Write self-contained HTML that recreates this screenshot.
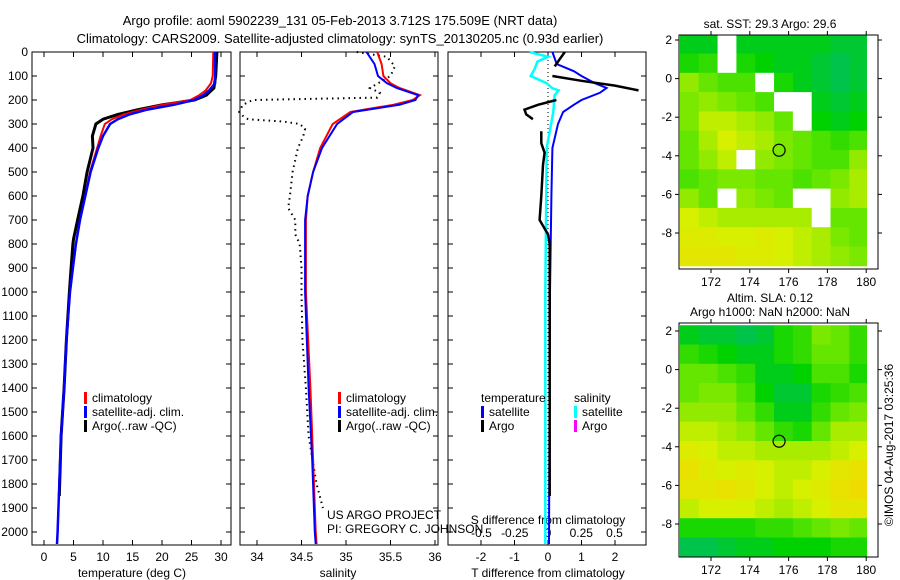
<!DOCTYPE html>
<html><head><meta charset="utf-8"><style>
html,body{margin:0;padding:0;background:#fff;}
svg{display:block;font-family:"Liberation Sans",sans-serif;}
</style></head><body>
<svg id="c" width="900" height="580" viewBox="0 0 900 580"></svg>
<script>
// ---- data ----
const tDepth   = [0,100,130,160,180,200,220,240,260,280,300,350,400,500,600,700,800,900,1000,1200,1400,1600,1800,2000,2050];
const tClim    = [28.7,28.6,28.3,27.4,26.3,24.8,20,16.5,13.5,11.5,10.3,9.6,9.0,7.8,7.0,6.1,5.4,4.9,4.4,3.8,3.4,2.9,2.6,2.3,2.2];
const tSat     = [29.0,29.0,29.0,28.0,27.0,25.5,22,17.5,14.5,12.5,11.2,10.0,9.2,7.9,7.0,6.1,5.4,4.9,4.4,3.8,3.4,2.9,2.6,2.3,2.2];
const tArgoDepth = [0,100,150,180,200,220,240,260,280,300,350,400,500,600,700,780,800,900,1000,1200,1400,1600,1850];
const tArgo    = [29.3,29.1,28.8,27.5,25.5,20,16,12.5,10,8.8,8.2,8.3,7.3,6.6,5.7,5.0,4.9,4.6,4.3,3.8,3.4,2.9,2.6];
const sDepth   = [0,50,100,130,150,180,200,220,250,300,400,500,600,700,1000,1400,1700,2000,2050];
const sClim    = [35.35,35.4,35.42,35.5,35.6,35.83,35.75,35.53,35.05,34.85,34.71,34.63,34.57,34.55,34.55,34.6,34.63,34.66,34.67];
const sSat     = [35.23,35.32,35.36,35.46,35.57,35.81,35.78,35.6,35.08,34.9,34.73,34.63,34.57,34.54,34.54,34.58,34.62,34.65,34.66];
const sArgoDepth = [0,20,60,100,150,170,190,200,220,250,270,280,290,300,320,350,400,500,600,650,700,760,800,900,1000,1200,1400,1600,1800,1900];
const sArgo    = [35.12,35.46,35.55,35.5,35.27,35.38,35.35,33.95,33.84,33.8,33.85,33.9,34.3,34.48,34.54,34.52,34.46,34.40,34.37,34.35,34.43,34.43,34.48,34.5,34.5,34.51,34.55,34.58,34.67,34.74];
const dDepth   = [0,50,80,100,130,150,170,200,220,250,300,400,600,1000,2050];
const dTSat    = [0.13,0.26,0.77,1.0,1.4,1.75,1.55,1.0,0.77,0.45,0.3,0.13,0.1,0.06,0.03];
const dTArgoDepth = [0,30,60,null,100,120,140,160,null,200,220,240,260,280,null,330,380,420,470,600,700,760,800,1200,1850];
const dTArgo   = [0.5,0.35,0.2,null,0.13,1.0,2.0,2.7,null,0.25,-0.3,-0.7,-0.65,-0.45,null,-0.2,-0.2,-0.1,-0.15,-0.2,-0.25,0.0,0.05,0.05,0.05];
const dSDepth  = [0,20,40,70,100,130,150,160,180,250,400,1000,2050];
const dSSat    = [-0.14,0,-0.08,-0.1,-0.13,-0.01,0.03,0.08,0.05,0.04,-0.01,-0.02,-0.02];
const depthTicks = [0,100,200,300,400,500,600,700,800,900,1000,1100,1200,1300,1400,1500,1600,1700,1800,1900,2000];
const tTicks = [0,5,10,15,20,25,30];
const sTicks = [34,34.5,35,35.5,36];
const sTickLabels = ["34","34.5","35","35.5","36"];
const dTTicks = [-2,-1,0,1,2];
const dSTicks = [-0.5,-0.25,0,0.25,0.5];
const lonTicks = [172,174,176,178,180];
const latTicks = [2,0,-2,-4,-6,-8];
const sstGrid = [
[.2,.2,null,.2,.2,.2,.2,.2,.15,.15],
[.3,.35,null,.3,.25,.2,.2,.15,.1,.15],
[.55,.45,.4,.4,null,.3,.2,.15,.1,.15],
[.5,.55,.5,.45,.4,null,null,.2,.15,.2],
[.5,.65,.65,.6,.55,.45,null,.25,.2,.25],
[.45,.6,.7,.65,.6,.5,.45,.4,.35,.4],
[.45,.55,.65,null,.55,.5,.45,.4,.4,.55],
[.4,.45,.5,.5,.45,.45,.4,.45,.5,.6],
[.55,.45,null,.55,.5,.45,null,null,.55,.6],
[.7,.65,.6,.6,.6,.6,.6,null,.45,.45],
[.75,.75,.7,.7,.75,.7,.65,.6,.5,.45],
[.8,.8,.8,.75,.75,.7,.65,.6,.55,.5]];
const slaGrid = [
[.2,.15,.15,.1,.15,.3,.35,.5,.45,.35],
[.35,.3,.25,.2,.2,.3,.35,.45,.45,.35],
[.45,.45,.4,.35,.2,.2,.25,.4,.4,.3],
[.45,.5,.5,.4,.25,.15,.15,.3,.35,.4],
[.55,.55,.55,.45,.35,.2,.2,.35,.45,.5],
[.65,.65,.6,.55,.45,.35,.3,.45,.6,.6],
[.75,.7,.65,.65,.6,.6,.6,.6,.65,.7],
[.85,.75,.7,.75,.7,.65,.65,.7,.8,.85],
[.8,.8,.85,.8,.7,.65,.7,.75,.85,.9],
[.65,.7,.7,.7,.65,.6,.65,.7,.8,.8],
[.3,.3,.3,.3,.35,.35,.4,.45,.5,.45],
[.1,.1,.15,.2,.2,.25,.25,.25,.3,.3]];
const floatLon = 175.509, floatLat = -3.712;

// ---- helpers ----
const svg = document.getElementById('c');
const NS = 'http://www.w3.org/2000/svg';
function mk(tag, attrs, parent){const e=document.createElementNS(NS,tag);for(const k in attrs)e.setAttribute(k,attrs[k]);(parent||svg).appendChild(e);return e;}
function txt(x,y,s,anchor,size,parent){const e=mk('text',{x:x,y:y,'text-anchor':anchor||'start','font-size':size||12,fill:'#000'},parent);e.textContent=s;return e;}
const Y0=52, YS=0.24;
const yD = d => Y0 + d*YS;
const P1={l:32,r:231}, P2={l:240,r:438}, P3={l:448,r:646}, PB=545;
const xT = t => 44 + t*5.9;
const xS = s => 257 + (s-34)*89;
const xDT = v => 548 + v*33.5;
const xDS = v => 548 + v*133;

function line(ds, vs, fx, color, w, dash, name){
  let d='', pen=false;
  for(let i=0;i<ds.length;i++){
    if(ds[i]===null||vs[i]===null){pen=false;continue;}
    d += (pen?'L':'M') + fx(vs[i]).toFixed(1) + ' ' + yD(ds[i]).toFixed(1) + ' ';
    pen=true;
  }
  const p=mk('path',{d:d,fill:'none',stroke:color,'stroke-width':w,'stroke-dasharray':dash||'none'});
  
  
  return p;
}
function box(P,name){
  const r=mk('rect',{x:P.l,y:Y0,width:P.r-P.l,height:PB-Y0,fill:'none',stroke:'#000','stroke-width':1});
  
  
  depthTicks.forEach(d=>{
    mk('line',{x1:P.l,x2:P.l+5,y1:yD(d),y2:yD(d),stroke:'#000'});
    mk('line',{x1:P.r,x2:P.r-5,y1:yD(d),y2:yD(d),stroke:'#000'});
  });
}
function xticks(vals, fx, labels, yl, P){
  vals.forEach((v,i)=>{
    const x=fx(v);
    mk('line',{x1:x,x2:x,y1:PB,y2:PB-5,stroke:'#000'});
    mk('line',{x1:x,x2:x,y1:Y0,y2:Y0+5,stroke:'#000'});
    const t=txt(x,yl,labels?labels[i]:String(v),'middle',12);
    
    
  });
}

// titles
let t=txt(340,25,'Argo profile: aoml 5902239_131 05-Feb-2013 3.712S 175.509E (NRT data)','middle',13);

t=txt(340,43,'Climatology: CARS2009. Satellite-adjusted climatology: synTS_20130205.nc (0.93d earlier)','middle',13);


// panel 1
box(P1,'temperature-panel');
depthTicks.forEach(d=>{const e=txt(28,yD(d)+4,String(d),'end',12);});
xticks(tTicks,xT,null,561,P1);
t=txt(132,577,'temperature (deg C)','middle',12);
line(tArgoDepth,tArgo,xT,'#000',3,null,'temperature-argo-line');
line(tDepth,tClim,xT,'#f00',2,null,'temperature-climatology-line');
line(tDepth,tSat,xT,'#00f',2.5,null,'temperature-satellite-line');

// panel 2
box(P2,'salinity-panel');
xticks(sTicks,xS,sTickLabels,561,P2);
t=txt(338,577,'salinity','middle',12);
line(sArgoDepth,sArgo,xS,'#000',2,'1.5 4','salinity-argo-dotted-line');
line(sDepth,sClim,xS,'#f00',2,null,'salinity-climatology-line');
line(sDepth,sSat,xS,'#00f',2,null,'salinity-satellite-line');

// legends p1, p2
function legend(x,y,items,name){
  const g=mk('g',{});
  
  
  items.forEach((it,i)=>{
    if(it[0]) mk('rect',{x:x,y:y+i*14-10,width:3,height:12,fill:it[0]},g);
    txt(x+(it[0]?8:0),y+i*14,it[1],'start',12,g);
  });
}
legend(84,402,[['#f00','climatology'],['#00f','satellite-adj. clim.'],['#000','Argo(..raw -QC)']],'temperature-legend');
legend(338,402,[['#f00','climatology'],['#00f','satellite-adj. clim.'],['#000','Argo(..raw -QC)']],'salinity-legend');
t=txt(327,519,'US ARGO PROJECT','start',12);
t=txt(327,533,'PI: GREGORY C. JOHNSON','start',12);

// panel 3
box(P3,'difference-panel');
mk('line',{x1:548,x2:548,y1:Y0,y2:PB,stroke:'#000','stroke-dasharray':'1 3'});
xticks(dTTicks,xDT,null,561,P3);
dSTicks.forEach(v=>{const e=txt(xDS(v),537,String(v),'middle',12);});
t=txt(548,524,'S difference from climatology','middle',12);
t=txt(548,577,'T difference from climatology','middle',12);
line(dSDepth,dSSat,xDS,'#0ff',2.5,null,'salinity-diff-satellite-line');
line(dDepth,dTSat,xDT,'#00f',2,null,'temperature-diff-satellite-line');
line(dTArgoDepth,dTArgo,xDT,'#000',2.5,null,'temperature-diff-argo-line');
legend(481,402,[[null,'temperature'],['#00f','satellite'],['#000','Argo']],'temperature-diff-legend');
legend(574,402,[[null,'salinity'],['#0ff','satellite'],['#f0f','Argo']],'salinity-diff-legend');

// maps
function cmap(v){
  const st=[[0,[0,185,125]],[0.25,[0,210,0]],[0.45,[100,230,0]],[0.7,[215,240,0]],[1,[250,210,0]]];
  for(let i=1;i<st.length;i++){ if(v<=st[i][0]){const a=st[i-1],b=st[i],f=(v-a[0])/(b[0]-a[0]);
    return 'rgb('+a[1].map((c,j)=>Math.round(c+(b[1][j]-c)*f)).join(',')+')';}}
  return 'rgb(250,210,0)';
}
function map(top, latTop, grid, title, name){
  const L=679,R=878,B=top+234;
  const xL = lon => 711 + (lon-172)*19.4;
  const yL = lat => latTop + (2-lat)*19.3;
  const g=mk('g',{});
  
  
  grid.forEach((row,r)=>row.forEach((v,c)=>{
    const lon0=170.4+c*0.97, lat0=2.3-r;
    const x=Math.max(L,xL(lon0)), y=Math.max(top,yL(lat0));
    const x2=Math.min(867,xL(lon0+0.97)+0.5), y2=Math.min(B,yL(lat0-1)+0.5);
    const cell=mk('rect',{x:x,y:y,width:x2-x,height:y2-y,fill:v===null?'#fff':cmap(v)},g);
    
    
  }));
  mk('rect',{x:L,y:top,width:R-L,height:B-top,fill:'none',stroke:'#000'},g);
  const c=mk('circle',{cx:xL(floatLon),cy:yL(floatLat),r:6,fill:'none',stroke:'#000','stroke-width':1.2},g);
  
  
  lonTicks.forEach(l=>{mk('line',{x1:xL(l),x2:xL(l),y1:B,y2:B+4,stroke:'#000'},g);mk('line',{x1:xL(l),x2:xL(l),y1:top,y2:top-4,stroke:'#000'},g);txt(xL(l),B+17,String(l),'middle',12,g);});
  latTicks.forEach(l=>{mk('line',{x1:L,x2:L-4,y1:yL(l),y2:yL(l),stroke:'#000'},g);mk('line',{x1:R,x2:R+4,y1:yL(l),y2:yL(l),stroke:'#000'},g);txt(672,yL(l)+4,String(l),'end',12,g);});
  title.forEach((s,i)=>txt(770,top-title.length*14+10+i*14 - 3,s,'middle',12,g));
}
map(35,40,sstGrid,['sat. SST: 29.3 Argo: 29.6'],'sst-map');
map(323,331,slaGrid,['Altim. SLA: 0.12','Argo h1000: NaN h2000: NaN'],'sla-map');
t=txt(0,0,'\u00A9IMOS 04-Aug-2017 03:25:36','middle',12);
t.setAttribute('transform','translate(893,445) rotate(-90)');

</script>
</body></html>
